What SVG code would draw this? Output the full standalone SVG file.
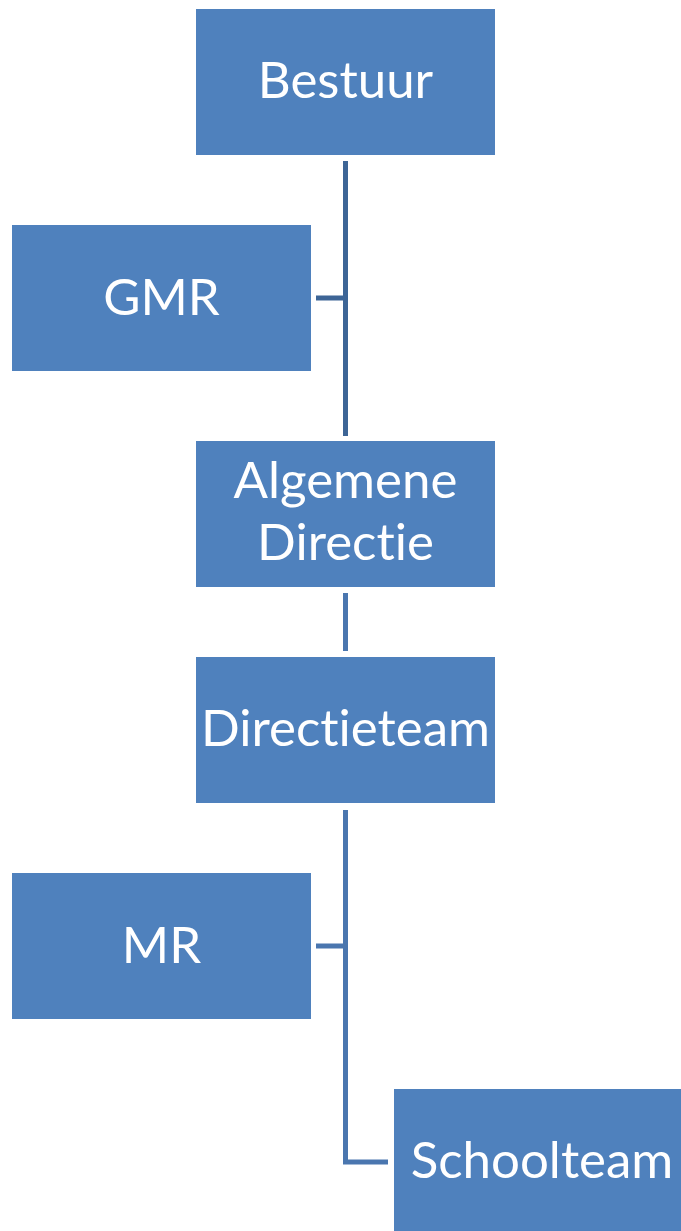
<svg xmlns="http://www.w3.org/2000/svg" width="681" height="1231" viewBox="0 0 681 1231">
<style>
.box{fill:#4f81bd}
.t{font-family:Lato,"Liberation Sans",sans-serif;font-size:51px;fill:#fff;text-anchor:middle;font-variant-ligatures:none;font-feature-settings:"liga" 0}
.c1{stroke:#3d6596;stroke-width:5;fill:none}
.c2{stroke:#4a76af;stroke-width:5;fill:none}
</style>
<rect width="681" height="1231" fill="#fff"/>
<g id="connectors">
<path class="c1" d="M345.5 161V436M316 298H345.5"/>
<path class="c2" d="M345.5 593V651"/>
<path class="c2" d="M345.5 810V1162H388M316 946H345.5"/>
</g>
<g id="bestuur"><rect class="box" x="196" y="9" width="299" height="146"/><text class="t" x="345.5" y="98">Bestuur</text></g>
<g id="gmr"><rect class="box" x="12" y="225" width="299" height="146"/><text class="t" x="161.5" y="315">GMR</text></g>
<g id="algemene-directie"><rect class="box" x="196" y="441" width="299" height="146"/><text class="t" x="345.5" y="498">Algemene</text><text class="t" x="345.5" y="560">Directie</text></g>
<g id="directieteam"><rect class="box" x="196" y="657" width="299" height="146"/><text class="t" x="345.5" y="746">Directieteam</text></g>
<g id="mr"><rect class="box" x="12" y="873" width="299" height="146"/><text class="t" x="161.5" y="963">MR</text></g>
<g id="schoolteam"><rect class="box" x="394" y="1089" width="287" height="142"/><text class="t" x="542" y="1178">Schoolteam</text></g>
</svg>
